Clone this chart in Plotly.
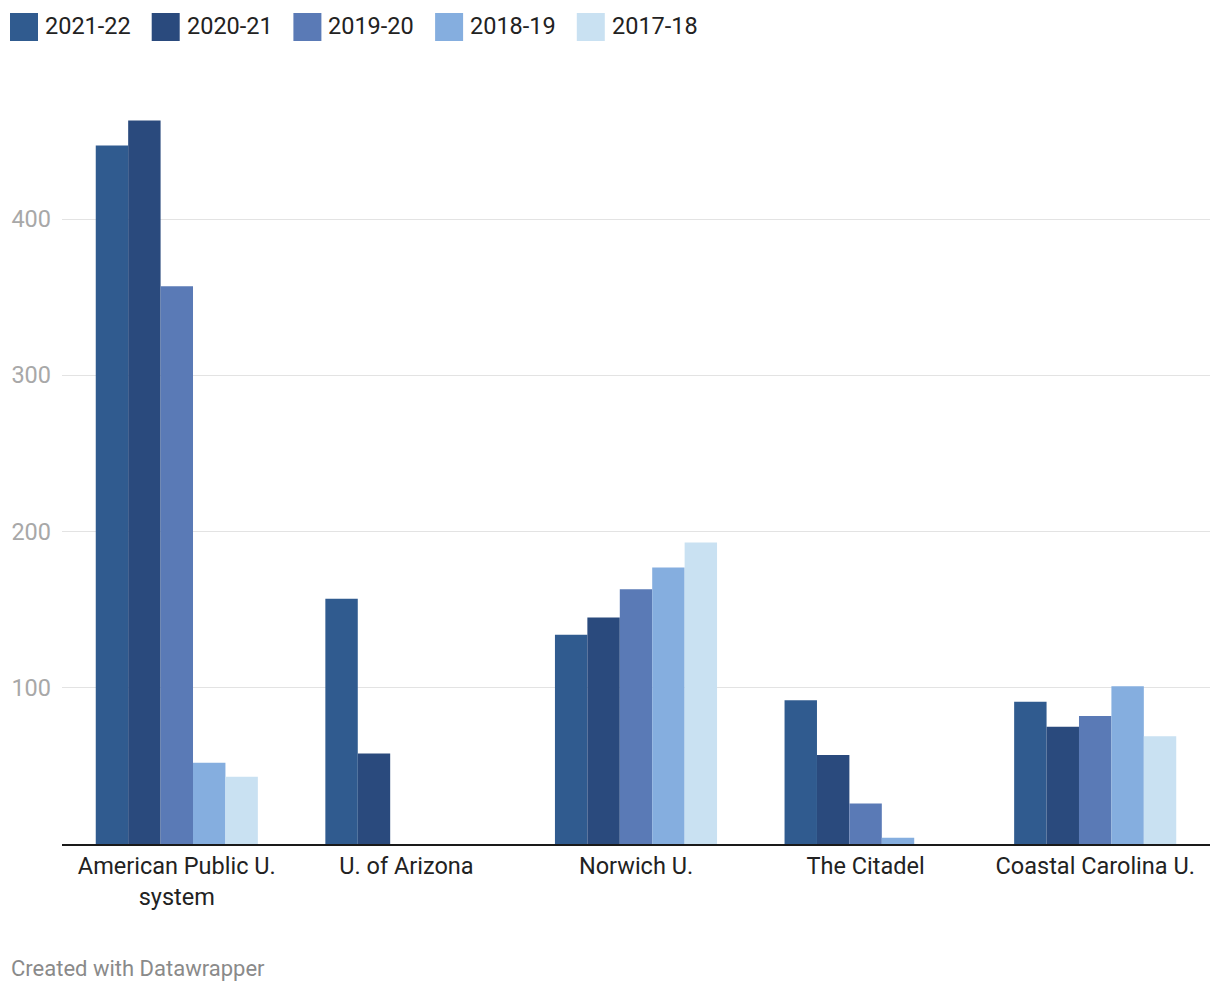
import plotly.graph_objects as go

categories = ["American Public U.<br>system", "U. of Arizona", "Norwich U.", "The Citadel", "Coastal Carolina U."]
series_names = ["2021-22", "2020-21", "2019-20", "2018-19", "2017-18"]
v_2021_22 = [447, 157, 134, 92, 91]
v_2020_21 = [463, 58, 145, 57, 75]
v_2019_20 = [357, None, 163, 26, 82]
v_2018_19 = [52, None, 177, 4, 101]
v_2017_18 = [43, None, 193, None, 69]
y_ticks = [100, 200, 300, 400]

series_values = [v_2021_22, v_2020_21, v_2019_20, v_2018_19, v_2017_18]
colors = ["#305b8f", "#2a4a7d", "#5a7ab6", "#85aedf", "#c9e1f2"]

OFF = 8  # default body margin of the page
W, H = 1212, 986
ML, MR, MT, MB = 54, 10, 92, 150
pw = W - ML - MR
ph = H - MT - MB


def px_x(px):
    return (px - OFF - ML) / pw


def px_y(py):
    return (H - MB - (py - OFF)) / ph


fig = go.Figure()
for name, vals, c in zip(series_names, series_values, colors):
    fig.add_trace(go.Bar(x=categories, y=vals, name=name, marker=dict(color=c, line=dict(width=0)),
                         showlegend=False))

# custom legend (top-left)
shapes = []
annotations = []
for i, (name, c) in enumerate(zip(series_names, colors)):
    x0px = 10 + i * 141.7
    shapes.append(dict(type="rect", xref="paper", yref="paper",
                       x0=px_x(x0px), x1=px_x(x0px + 28),
                       y0=px_y(41), y1=px_y(13),
                       fillcolor=c, line=dict(width=0)))
    annotations.append(dict(text=name, xref="paper", yref="paper",
                            x=px_x(x0px + 33), y=px_y(26),
                            xanchor="left", yanchor="middle", showarrow=False,
                            font=dict(size=23.5, color="#222222", family="Roboto")))

annotations.append(dict(text="Created with Datawrapper", xref="paper", yref="paper",
                        x=px_x(9), y=px_y(968), xanchor="left", yanchor="middle",
                        showarrow=False, font=dict(size=22, color="#8a8a8a", family="Roboto")))

fig.update_layout(
    width=W, height=H,
    margin=dict(l=ML, r=MR, t=MT, b=MB, pad=0, autoexpand=False),
    paper_bgcolor="white", plot_bgcolor="white",
    bargap=0.294, bargroupgap=0, barmode="group",
    font=dict(family="Roboto", size=23.5, color="#222222"),
    shapes=shapes, annotations=annotations,
    xaxis=dict(showgrid=False, showline=True, linecolor="#1a1a1a", linewidth=2, automargin=False,
               ticks="", tickfont=dict(size=23.5, color="#222222"), fixedrange=True),
    yaxis=dict(range=[0, ph / 1.5625], tickvals=y_ticks, showgrid=True, gridcolor="#e3e3e3",
               gridwidth=1, zeroline=False, showline=False, ticks="", automargin=False,
               tickfont=dict(size=23.5, color="#a8a8a8"), ticklabelstandoff=10),
)

fig.write_html("out.html")
